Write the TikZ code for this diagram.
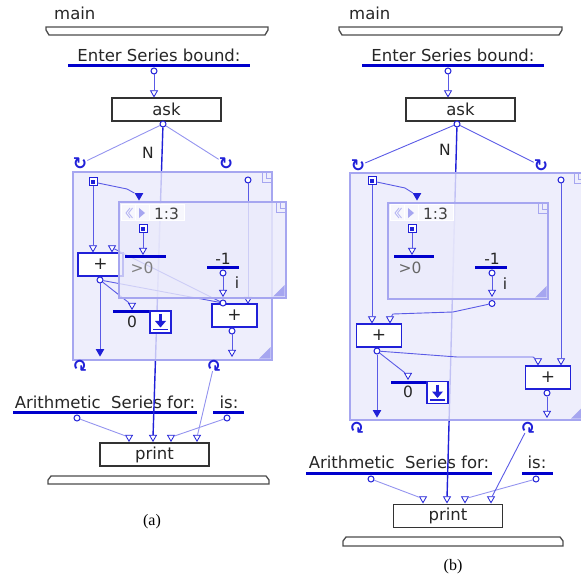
\documentclass[tikz,border=0pt]{standalone}
\usepackage{fontspec}
\setmainfont{DejaVu Sans}
\newfontfamily\capfont{Liberation Serif}
\usetikzlibrary{shapes.geometric}

\definecolor{barblue}{HTML}{0000CC}
\definecolor{nodeblue}{HTML}{2020D8}
\definecolor{wireblue}{HTML}{5A5AE6}
\definecolor{frameblue}{HTML}{A6A6F0}
\definecolor{framefill}{HTML}{EAEAFB}
\definecolor{textgray}{HTML}{262626}

\tikzset{
  lbl/.style={font=\fontsize{16.5}{18}\selectfont, text=textgray, inner sep=0pt},
  sml/.style={font=\fontsize{15.5}{16}\selectfont, text=textgray, inner sep=0pt},
  subcap/.style={font=\capfont\fontsize{16}{18}\selectfont, text=black, inner sep=0pt},
  valbar/.style={draw=barblue, line width=3pt},
  wire/.style={draw=wireblue, line width=0.9pt},
  lightwire/.style={draw=wireblue!65, line width=0.9pt},
  mainwire/.style={draw=nodeblue, line width=1.4pt},
  edgebar/.style={draw=black!70, line width=1.3pt, fill=white},
  opbox/.style={draw=black!80, line width=1.8pt, fill=white, minimum width=109pt,
    minimum height=23pt, inner sep=0pt, font=\fontsize{16.5}{18}\selectfont, text=textgray},
  plusbox/.style={draw=nodeblue, line width=1.3pt, fill=white, minimum width=45pt,
    minimum height=23pt, inner sep=0pt, font=\fontsize{17}{18}\selectfont, text=textgray},
  outc/.style={circle, draw=nodeblue, fill=white, line width=1pt, inner sep=0pt, minimum size=6pt},
  rootsq/.style={rectangle, draw=nodeblue, fill=white, line width=1pt, inner sep=0pt, minimum size=8pt,
    path picture={\fill[nodeblue] ([shift={(-2pt,-2pt)}]path picture bounding box.center)
      rectangle ([shift={(2pt,2pt)}]path picture bounding box.center);}},
  intri/.style={regular polygon, regular polygon sides=3, shape border rotate=180, draw=nodeblue,
    fill=white, line width=0.8pt, inner sep=0pt, minimum size=8pt, anchor=corner 1},
  listtri/.style={regular polygon, regular polygon sides=3, shape border rotate=180, fill=nodeblue,
    inner sep=0pt, minimum size=10pt, anchor=corner 1},
  loopic/.style={text=nodeblue, inner sep=0pt, font=\bfseries\fontsize{17}{17}\selectfont},
  loopframe/.style={draw=frameblue, line width=2.6pt, fill=framefill, fill opacity=0.8},
  btnbox/.style={draw=nodeblue, line width=1.2pt, fill=white, minimum width=21pt,
    minimum height=22pt, inner sep=0pt}
}

% corner mark and resize grip of a loop window: right x, top y, bottom y
\newcommand\framemarks[3]{%
  \draw[frameblue, line width=0.9pt] (#1-10,#2+1) -- (#1-10,#2+10) -- (#1-1,#2+10);
  \draw[frameblue, line width=0.9pt] (#1-6,#2+1) -- (#1-6,#2+6) -- (#1-1,#2+6);
  \fill[frameblue] (#1-1.5,#3-13) -- (#1-1.5,#3-1.5) -- (#1-13,#3-1.5) -- cycle;
}
% header of the inner window: left x, top y, name of the count
\newcommand\winhead[3]{%
  \fill[white!60!framefill] (#1,#2) rectangle ++(63,16);
  \draw[white, line width=1pt] (#1,#2) rectangle ++(14,16) ++(0,-16) rectangle ++(14,16)
    ++(0,-16) rectangle ++(35,16);
  \draw[frameblue!80, line width=0.9pt] (#1+9,#2+3) -- (#1+5,#2+8) -- (#1+9,#2+13)
    (#1+11.5,#2+3) -- (#1+7.5,#2+8) -- (#1+11.5,#2+13);
  \fill[frameblue] (#1+18,#2+3) -- (#1+24,#2+8) -- (#1+18,#2+13) -- cycle;
  \node[sml, text=black!75] (#3) at (#1+45.5,#2+8.5) {1:3};
}
% the list button
\newcommand\listbtn[1]{%
  \draw[nodeblue, line width=2.6pt] ([yshift=8pt]#1.center) -- ([yshift=-1pt]#1.center);
  \fill[nodeblue] ([xshift=-5.5pt,yshift=1pt]#1.center) -- ([xshift=5.5pt,yshift=1pt]#1.center)
    -- ([yshift=-5.5pt]#1.center) -- cycle;
  \draw[nodeblue, line width=1.8pt] ([xshift=-7.5pt,yshift=-7.5pt]#1.center)
    -- ([xshift=7.5pt,yshift=-7.5pt]#1.center);
}

\begin{document}
\begin{tikzpicture}[x=1pt,y=-1pt]
\useasboundingbox (0,0) rectangle (581,577);

% ---------------- (a) ----------------
\node[lbl, anchor=base west] (mainA) at (54,20) {main};
\draw[edgebar] (46,27) -- (268,27) -- (268,30) -- (265,35) -- (49,35) -- (46,30) -- cycle;
\node[lbl, anchor=base] (enterA) at (159,62) {Enter Series bound:};
\draw[valbar] (68,66) -- (250,66);
\node[outc] (enterOA) at (154,71) {};
\node[opbox] (askA) at (166.5,109.5) {ask};
\node[intri] (askIA) at (154,97.5) {};
\draw[wire] (enterOA) -- (askIA);
\node[outc] (askOA) at (163,124) {};
\node[sml] (nA) at (148,153) {N};

\node[lbl, anchor=base] (arithA) at (105,408) {Arithmetic~ Series for:};
\draw[valbar] (13,412) -- (197,412);
\node[outc] (arithOA) at (77,418) {};
\node[lbl, anchor=base] (isA) at (229,408) {is:};
\draw[valbar] (213,412) -- (244,412);
\node[outc] (isOA) at (227,418) {};
\node[opbox] (printA) at (154.5,454.5) {print};
\foreach \x/\n in {129/1,153/2,171/3,197/4}
  \node[intri] (prIA\n) at (\x,442) {};
\draw[lightwire] (arithOA) -- (prIA1);
\draw[lightwire] (isOA) -- (prIA3);
\draw[edgebar] (51,476) -- (266,476) -- (269,480) -- (269,484) -- (48,484) -- (48,480) -- cycle;
\node[subcap] (capA) at (152,522) {(a)};

\draw[mainwire] (askOA) -- (prIA2);
\coordinate (iOutPtA) at (223,303);

% outer loop
\draw[loopframe] (73,172) rectangle (272,360);
\framemarks{272}{172}{360}
\node[rootsq] (rootA) at (93,182) {};
\node[outc] (topOA) at (248,180) {};
\node[listtri] (iInA) at (139,201) {};
\node[plusbox] (plusLA) at (100.5,264.5) {+};
\node[intri] (pLinA1) at (93,252.5) {};
\node[intri] (pLinA2) at (112,252.5) {};
\node[outc] (pLoutA) at (100,280) {};
\node[listtri] (listA) at (100,357) {};
\draw[valbar] (113,312) -- (149,312);
\node[sml] (zeroA) at (132,322) {0};
\node[intri] (zInA) at (132,310) {};
\node[btnbox] (btnA) at (160.5,322) {};
\listbtn{btnA}
\node[plusbox] (plusRA) at (234.5,315.5) {+};
\node[intri] (pRinA) at (248,304) {};
\node[outc] (pRoutA) at (232,331) {};
\node[intri] (pRendA) at (232,357) {};
\draw[wire] (rootA) -- (pLinA1);
\draw[wire] (rootA) -- (127,189) -- (iInA);
\draw[wire] (pLoutA) -- (listA);
\draw[wire] (pLoutA) -- (zInA);
\draw[wire] (topOA) -- (pRinA);
\draw[wire] (pRoutA) -- (pRendA);
\draw[wire] (pLoutA) -- (iOutPtA);
\draw[wire] (iOutPtA) -- (pLinA2);

% inner loop
\draw[loopframe] (119,202) rectangle (286,298);
\framemarks{286}{202}{298}
\winhead{121}{205}{hdA}
\node[rootsq] (iRootA) at (143,229) {};
\draw[valbar] (125,257) -- (166,257);
\node[sml, text=black!50] (gtA) at (142,268) {>0};
\node[intri] (gtInA) at (143,255) {};
\draw[wire] (iRootA) -- (gtInA);
\node[sml] (m1A) at (223,259) {-1};
\draw[valbar] (207,268) -- (239,268);
\node[outc] (m1OA) at (223,273) {};
\node[sml] (iA) at (237,283) {i};
\node[intri] (iOutInA) at (223,297) {};
\draw[wire] (m1OA) -- (iOutInA);
\node[outc] (iOutA) at (iOutPtA) {};

\node[loopic] (lpTLA) at (80,164) {↻};
\node[loopic] (lpTRA) at (226,164) {↻};
\node[loopic, rotate=180] (lpBLA) at (80,365) {↻};
\node[loopic, rotate=180] (lpBRA) at (214,365) {↻};
\draw[lightwire] (askOA) -- (lpTLA);
\draw[lightwire] (askOA) -- (lpTRA);
\draw[lightwire] (lpBRA) -- (prIA4);

% ---------------- (b) ----------------
\node[lbl, anchor=base west] (mainB) at (349,20) {main};
\draw[edgebar] (339,27) -- (562,27) -- (562,30) -- (559,35) -- (342,35) -- (339,30) -- cycle;
\node[lbl, anchor=base] (enterB) at (453,62) {Enter Series bound:};
\draw[valbar] (362,66) -- (544,66);
\node[outc] (enterOB) at (448,71) {};
\node[opbox] (askB) at (460.5,109.5) {ask};
\node[intri] (askIB) at (448,97.5) {};
\draw[wire] (enterOB) -- (askIB);
\node[outc] (askOB) at (457,124) {};
\node[sml] (nB) at (445,150) {N};

\node[lbl, anchor=base] (arithB) at (399,468) {Arithmetic~ Series for:};
\draw[valbar] (306,473) -- (492,473);
\node[outc] (arithOB) at (371,479) {};
\node[lbl, anchor=base] (isB) at (537,468) {is:};
\draw[valbar] (522,473) -- (553,473);
\node[outc] (isOB) at (536,479) {};
\node[opbox] (printB) at (448,516) {print};
\foreach \x/\n in {423/1,447/2,465/3,491/4}
  \node[intri] (prIB\n) at (\x,503.5) {};
\draw[lightwire] (arithOB) -- (prIB1);
\draw[lightwire] (isOB) -- (prIB3);
\draw[edgebar] (346,537) -- (560,537) -- (563,541) -- (563,546) -- (343,546) -- (343,541) -- cycle;
\node[subcap] (capB) at (453,567) {(b)};

\draw[mainwire] (askOB) -- (prIB2);

% outer loop
\draw[loopframe] (350,173) rectangle (584,420);
\framemarks{584}{173}{420}
\node[rootsq] (rootB) at (372,181) {};
\node[outc] (topOB) at (561,180) {};
\node[listtri] (iInB) at (417,201) {};
\node[plusbox] (plusLB) at (379,335.5) {+};
\node[intri] (pLinB1) at (372,323.5) {};
\node[intri] (pLinB2) at (390,323.5) {};
\node[outc] (pLoutB) at (377,351) {};
\node[listtri] (listB) at (377,418) {};
\draw[valbar] (391,382) -- (427,382);
\node[sml] (zeroB) at (408,392) {0};
\node[intri] (zInB) at (408,380) {};
\node[btnbox] (btnB) at (437.5,392.5) {};
\listbtn{btnB}
\node[plusbox] (plusRB) at (548,377.5) {+};
\node[intri] (pRinB1) at (538,365.5) {};
\node[intri] (pRinB2) at (561,365.5) {};
\node[outc] (pRoutB) at (547,393) {};
\node[intri] (pRendB) at (547,418) {};
\draw[wire] (rootB) -- (pLinB1);
\draw[wire] (rootB) -- (405,188) -- (iInB);
\draw[wire] (pLoutB) -- (listB);
\draw[wire] (pLoutB) -- (zInB);
\draw[wire] (pLoutB) -- (457,357) -- (533,357) -- (pRinB1);
\draw[wire] (topOB) -- (pRinB2);
\draw[wire] (pRoutB) -- (pRendB);

% inner loop
\draw[loopframe] (388,203) rectangle (548,299);
\framemarks{548}{203}{299}
\winhead{390}{205}{hdB}
\node[rootsq] (iRootB) at (412,229) {};
\draw[valbar] (394,257) -- (434,257);
\node[sml, text=black!60] (gtB) at (410,268) {>0};
\node[intri] (gtInB) at (412,255) {};
\draw[wire] (iRootB) -- (gtInB);
\node[sml] (m1B) at (492,259) {-1};
\draw[valbar] (475,268) -- (507,268);
\node[outc] (m1OB) at (492,273) {};
\node[sml] (iB) at (505,284) {i};
\node[intri] (iOutInB) at (492,297) {};
\draw[wire] (m1OB) -- (iOutInB);
\node[outc] (iOutB) at (492,303.5) {};
\draw[wire] (iOutB) -- (453,312) -- (393,314) -- (pLinB2);

\node[loopic] (lpTLB) at (358,166) {↻};
\node[loopic] (lpTRB) at (541,166) {↻};
\node[loopic, rotate=180] (lpBLB) at (357,427) {↻};
\node[loopic, rotate=180] (lpBRB) at (528,427) {↻};
\draw[wire] (askOB) -- (lpTLB);
\draw[wire] (askOB) -- (lpTRB);
\draw[wire] (lpBRB) -- (prIB4);
\end{tikzpicture}
\end{document}
